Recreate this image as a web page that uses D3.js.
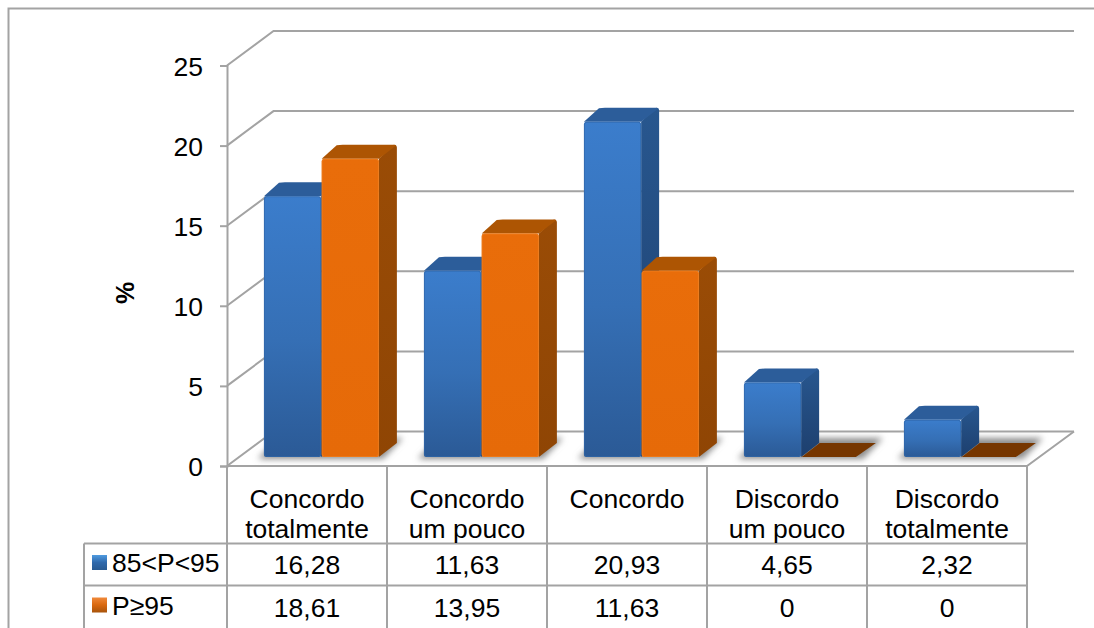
<!DOCTYPE html>
<html>
<head>
<meta charset="utf-8">
<script src="https://cdn.jsdelivr.net/npm/d3@7"></script>
<style>
html,body{margin:0;padding:0;background:#fff}
svg{display:block}
text{font-family:"Liberation Sans",Arial,sans-serif;fill:#000}
</style>
</head>
<body>
<div id="chart"></div>
<script>
// Survey answers by weight group, in percent
const categories = [["Concordo","totalmente"],["Concordo","um pouco"],["Concordo"],["Discordo","um pouco"],["Discordo","totalmente"]];
const seriesNames = ["85<P<95","P≥95"];
const seriesA = [16.28,11.63,20.93,4.65,2.32];
const seriesB = [18.61,13.95,11.63,0,0];
const seriesLabelsA = ["16,28","11,63","20,93","4,65","2,32"];
const seriesLabelsB = ["18,61","13,95","11,63","0","0"];
const yTicks = [0,5,10,15,20,25];

const W = 1094, H = 628;
const wallDx = 46.5, wallDy = 34.5;   // oblique shift of the back wall
const barDx = 18, barDy = 14;         // oblique depth of a bar
const floorInset = 9;                 // bars stand slightly behind the front floor edge
const grid = "#a3a3a3";
const fontSize = 26.5;

const svg = d3.select("#chart").append("svg").attr("width",W).attr("height",H);
const defs = svg.append("defs");

function vGrad(id, stops){
  const g = defs.append("linearGradient").attr("id",id)
    .attr("x1",0).attr("y1",0).attr("x2",0).attr("y2",1);
  stops.forEach(s=>g.append("stop").attr("offset",s[0]).attr("stop-color",s[1]));
}
vGrad("frontA",[[0,"#3b7dcc"],[0.55,"#356fb5"],[1,"#2b5a96"]]);
vGrad("sideA",[[0,"#28578f"],[1,"#1d3f6e"]]);
vGrad("frontB",[[0,"#e96d0a"],[1,"#e66a08"]]);
vGrad("sideB",[[0,"#9a4c06"],[1,"#8f4504"]]);
vGrad("keyA",[[0,"#4f9be0"],[0.5,"#2f69ac"],[1,"#285a92"]]);
vGrad("keyB",[[0,"#f0893a"],[0.5,"#d9680f"],[1,"#a8540c"]]);
defs.append("filter").attr("id","soft").attr("x","-20%").attr("y","-80%").attr("width","140%").attr("height","260%")
  .append("feGaussianBlur").attr("stdDeviation",3);

const x0 = d3.scaleBand().domain(d3.range(categories.length)).range([227,1027]);
const x1 = d3.scaleBand().domain([0,1]).range([0,x0.bandwidth()]).paddingInner(0.01).paddingOuter(0.39).align(0.82);
const y = d3.scaleLinear().domain([0,25]).range([466,65.5]);

// Outer frame, open to the right and bottom
svg.append("path").attr("d",`M8.5,${H}V8.5H${W}`).attr("fill","none").attr("stroke",grid).attr("stroke-width",2);

// Wall gridlines with their oblique returns to the left axis
const wall = svg.append("g").attr("fill","none").attr("stroke",grid).attr("stroke-width",2);
yTicks.forEach(t=>{
  const yy = y(t);
  wall.append("path").attr("d",`M227,${yy}L${227+wallDx},${yy-wallDy}H1074`);
});
wall.append("path").attr("d",`M1074,${y(0)-wallDy}L1027,${y(0)}H227`);

// Left axis with outward ticks and labels
const axis = d3.axisLeft(y).tickValues(yTicks).tickSize(7).tickPadding(17);
const axG = svg.append("g").attr("transform","translate(227,0)").call(axis);
axG.select(".domain").attr("stroke",grid).attr("stroke-width",2);
axG.selectAll("line").attr("stroke",grid).attr("stroke-width",2);
axG.selectAll("text").attr("font-size",fontSize).attr("y",1.5)
  .style("font-family",'"Liberation Sans",Arial,sans-serif').attr("fill","#000");

svg.append("text").attr("transform","translate(134,293) rotate(-90)").attr("text-anchor","middle")
  .attr("font-size",25).attr("font-weight","bold").text("%");

// Soft shadow each cluster casts on the floor
const base = y(0)-floorInset;
const clusters = svg.append("g").attr("filter","url(#soft)");
categories.forEach((c,i)=>{
  const l = x0(i)+x1(0)-6, r = x0(i)+x1(1)+x1.bandwidth()+4;
  clusters.append("path").attr("fill","#8c8c8c")
    .attr("d",`M${l},${base+2}L${l+barDx+2},${base-barDy-5}H${r+barDx+2}L${r},${base+2}Z`);
});

function drawBar(cx, val, key){
  const w = x1.bandwidth();
  const top = y(val)-floorInset;
  const g = svg.append("g");
  if(val===0){
    g.append("path").attr("fill","#763600")
      .attr("d",`M${cx},${base}L${cx+barDx},${base-barDy}H${cx+w+barDx-1}L${cx+w-3},${base}Z`);
    return;
  }
  const r = 3;
  g.append("path").attr("fill",`url(#side${key})`)
    .attr("d",`M${cx+w},${top}L${cx+w+barDx-r},${top-barDy}Q${cx+w+barDx},${top-barDy} ${cx+w+barDx},${top-barDy+r}V${base-barDy}L${cx+w},${base}Z`);
  g.append("path").attr("fill",key==="A"?"#2c5d9a":"#ad5503")
    .attr("d",`M${cx},${top}L${cx+barDx-r},${top-barDy+0.5}Q${cx+barDx},${top-barDy} ${cx+barDx+r},${top-barDy}H${cx+w+barDx-r}Q${cx+w+barDx},${top-barDy} ${cx+w+barDx-1},${top-barDy+1}L${cx+w},${top}Z`);
  g.append("rect").attr("x",cx).attr("y",top).attr("width",w).attr("height",base-top)
    .attr("rx",2.5).attr("fill",`url(#front${key})`);
  // thin bevel along the front face edges
  g.append("rect").attr("x",cx+0.5).attr("y",top+0.5).attr("width",w-1).attr("height",base-top-1)
    .attr("rx",2.5).attr("fill","none").attr("stroke",key==="A"?"#3067a8":"#ef7f1e").attr("stroke-opacity",0.7);
}

categories.forEach((c,i)=>{
  drawBar(x0(i)+x1(0), seriesA[i], "A");
  drawBar(x0(i)+x1(1), seriesB[i], "B");
});

// Data table below the plot
const rowLines = [543.5,585.5];
const table = svg.append("g").attr("stroke",grid).attr("stroke-width",2).attr("fill","none");
d3.range(categories.length+1).forEach(i=>{
  const xx = i<categories.length ? x0(i) : x0.range()[1];
  table.append("line").attr("x1",xx).attr("x2",xx).attr("y1",466).attr("y2",H);
});
table.append("line").attr("x1",84).attr("x2",84).attr("y1",rowLines[0]).attr("y2",H);
rowLines.forEach(r=>{
  table.append("line").attr("x1",84).attr("x2",1027).attr("y1",r).attr("y2",r);
});

const txt = svg.append("g").attr("font-size",fontSize).attr("text-anchor","middle");
categories.forEach((c,i)=>{
  const cx = x0(i)+x0.bandwidth()/2;
  c.forEach((ln,k)=>txt.append("text").attr("x",cx).attr("y",507.5+k*30).text(ln));
  txt.append("text").attr("x",cx).attr("y",573.5).text(seriesLabelsA[i]);
  txt.append("text").attr("x",cx).attr("y",616.5).text(seriesLabelsB[i]);
});

// Legend keys sit in the first column of the table
[[seriesNames[0],555,572,"keyA"],[seriesNames[1],597.5,614.5,"keyB"]].forEach(d=>{
  svg.append("rect").attr("x",92).attr("y",d[1]).attr("width",15).attr("height",15).attr("fill",`url(#${d[3]})`);
  svg.append("text").attr("x",112).attr("y",d[2]).attr("font-size",fontSize).text(d[0]);
});
</script>
</body>
</html>
